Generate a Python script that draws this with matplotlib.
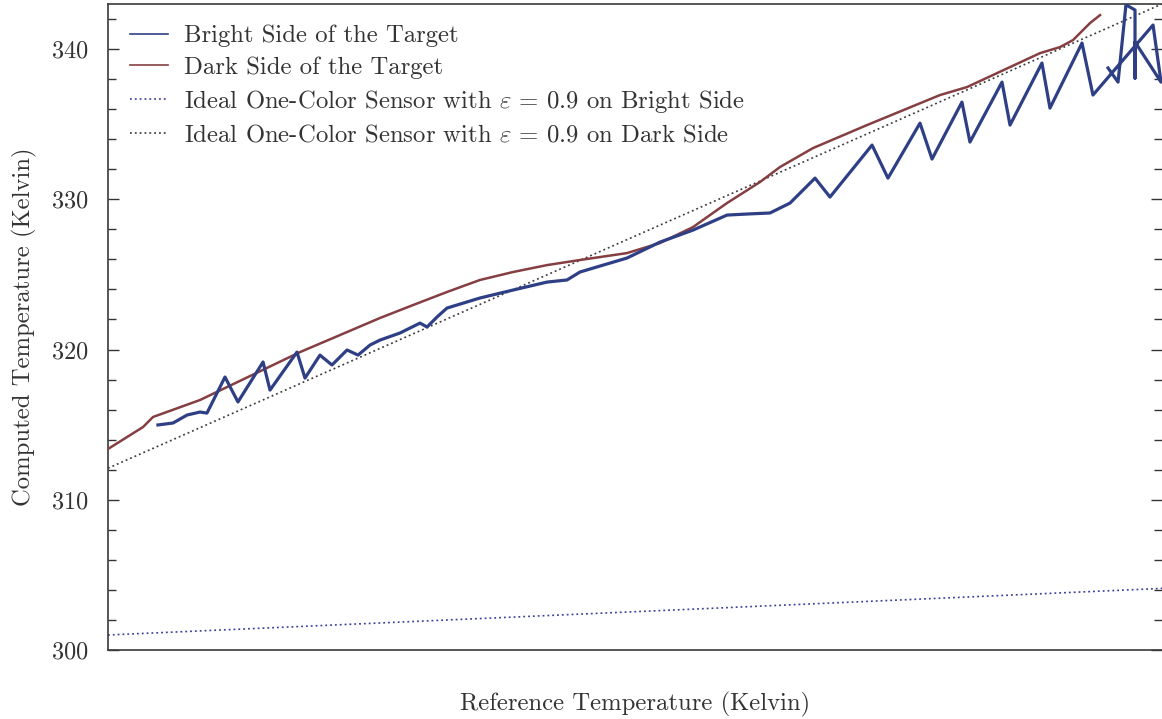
import matplotlib
matplotlib.use("Agg")
import matplotlib.pyplot as plt
from matplotlib.ticker import MultipleLocator

plt.rcParams["font.family"] = "serif"
plt.rcParams["font.serif"] = ["cmr10", "DejaVu Serif"]
plt.rcParams["mathtext.fontset"] = "cm"
plt.rcParams["axes.unicode_minus"] = False
plt.rcParams["axes.formatter.use_mathtext"] = True

# Reference temperature (normalised sweep position, 0-100)
dark_x = [0.0, 3.32, 4.27, 8.73, 18.22, 25.81, 28.94, 32.16, 35.29, 38.43,
          41.65, 44.78, 49.24, 52.37, 55.50, 58.73, 61.86, 63.76, 66.89,
          72.01, 78.94, 81.50, 88.43, 90.32, 91.56, 93.17, 94.12]
dark_t = [313.38, 314.84, 315.51, 316.64, 319.83, 322.10, 322.96, 323.83,
          324.63, 325.16, 325.62, 325.96, 326.42, 327.09, 328.15, 329.75,
          331.15, 332.15, 333.41, 334.94, 336.94, 337.47, 339.73, 340.13,
          340.60, 341.73, 342.26]

bright_x = [4.74, 6.17, 7.50, 8.73, 9.39, 11.10, 12.33, 14.71, 15.37, 17.93,
            18.69, 20.11, 21.25, 22.68, 23.72, 24.86, 25.81, 27.70, 29.60,
            30.27, 31.21, 32.16, 35.29, 38.43, 41.65, 43.55, 44.78, 46.02,
            49.24, 52.37, 55.50, 58.73, 60.63, 62.81, 64.71, 67.08, 68.50,
            72.49, 74.00, 77.04, 78.18, 81.02, 81.78, 84.82, 85.58, 88.61,
            89.37, 92.41, 93.45, 99.15, 99.91, 97.44, 97.44, 97.44, 96.58,
            95.83, 94.88]
bright_t = [314.98, 315.11, 315.64, 315.84, 315.77, 318.17, 316.51, 319.17,
            317.30, 319.83, 318.10, 319.63, 318.97, 319.97, 319.63, 320.30,
            320.63, 321.10, 321.76, 321.50, 322.16, 322.76, 323.43, 323.96,
            324.49, 324.63, 325.16, 325.42, 326.09, 327.15, 327.95, 328.95,
            329.02, 329.09, 329.75, 331.41, 330.15, 333.61, 331.41, 335.07,
            332.68, 336.47, 333.81, 337.80, 334.94, 339.07, 336.07, 340.40,
            336.94, 341.60, 337.80, 340.47, 338.07, 342.60, 342.95, 337.80,
            338.74]

ideal_x = [0.0, 100.0]
ideal_dark = [312.1, 343.0]
ideal_bright = [301.0, 304.1]

labels = [
    "Bright Side of the Target",
    "Dark Side of the Target",
    r"Ideal One-Color Sensor with $\varepsilon$ = 0.9 on Bright Side",
    r"Ideal One-Color Sensor with $\varepsilon$ = 0.9 on Dark Side",
]

blue = "#2f3f86"
red = "#853f42"
text_c = "#333333"
fs = 17.8

fig = plt.figure(figsize=(11.62, 7.19), dpi=100)
ax = fig.add_axes([108 / 1162, 1 - 650 / 719, 1 - 108 / 1162, 646 / 719])

l1, = ax.plot(bright_x, bright_t, color=blue, lw=2.3, solid_joinstyle="round",
              zorder=4)
l2, = ax.plot(dark_x, dark_t, color=red, lw=1.8, solid_joinstyle="round",
              zorder=3)
l3, = ax.plot(ideal_x, ideal_bright, color="#3b3f9a", lw=1.2,
              linestyle=(0, (1.1, 1.8)))
l4, = ax.plot(ideal_x, ideal_dark, color="#3a3a3a", lw=1.2,
              linestyle=(0, (1.1, 1.8)))

ax.set_xlim(0, 100)
ax.set_ylim(300, 343)
ax.set_xticks([])
ax.yaxis.set_major_locator(MultipleLocator(10))
ax.yaxis.set_minor_locator(MultipleLocator(2))
ax.tick_params(axis="y", which="both", direction="in", left=True, right=True,
               colors=text_c, labelsize=17.5, pad=14)
ax.tick_params(axis="y", which="major", length=8, width=1.0)
ax.tick_params(axis="y", which="minor", length=6, width=1.0)

for side in ("left", "bottom", "top"):
    ax.spines[side].set_color("#3a3a3a")
    ax.spines[side].set_linewidth(1.2)
ax.spines["right"].set_visible(False)

ax.set_xlabel("Reference Temperature (Kelvin)", fontsize=fs, color=text_c,
              labelpad=30)
ax.set_ylabel("Computed Temperature (Kelvin)", fontsize=fs, color=text_c,
              labelpad=10)

leg = ax.legend([l1, l2, l3, l4], labels, loc="upper left",
                bbox_to_anchor=(0.021, 0.968), frameon=False, fontsize=fs,
                handlelength=1.55, handletextpad=0.62, labelspacing=0.37,
                borderpad=0.0, borderaxespad=0.0)
for t in leg.get_texts():
    t.set_color(text_c)
leg.legend_handles[0].set_linewidth(1.2)
leg.legend_handles[1].set_linewidth(1.2)

fig.savefig("out.png", dpi=100)
